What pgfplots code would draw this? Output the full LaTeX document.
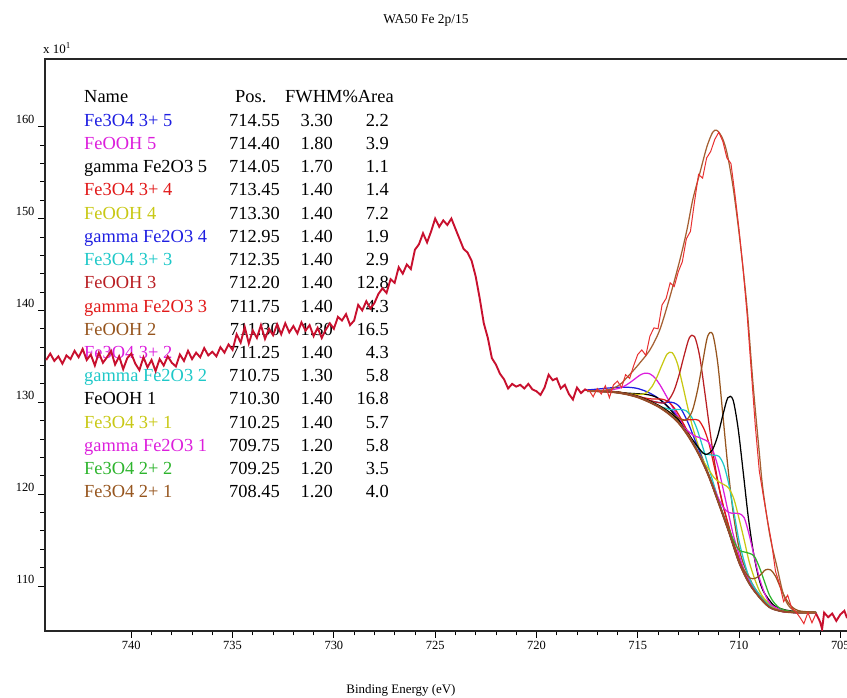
\documentclass[border=0pt]{standalone}
\usepackage{fontspec}
\setmainfont{Liberation Serif}
\usepackage{pgfplots}
\pgfplotsset{compat=1.18}
\definecolor{crim}{RGB}{200,16,46}
\definecolor{rreg}{RGB}{232,48,48}
\definecolor{cblue}{RGB}{30,30,225}
\definecolor{cmag}{RGB}{220,30,220}
\definecolor{cyel}{RGB}{200,200,20}
\definecolor{ccyan}{RGB}{30,200,200}
\definecolor{cred}{RGB}{225,25,25}
\definecolor{cdred}{RGB}{185,30,35}
\definecolor{cbrown}{RGB}{150,85,30}
\definecolor{cgreen}{RGB}{45,180,45}
\definecolor{env}{RGB}{165,95,50}
\definecolor{bgc}{RGB}{150,75,40}
\begin{document}
\begin{tikzpicture}
% ---- table of components (drawn first, data line passes over it)
\begin{scope}[every node/.style={font=\fontsize{18.5}{22}\selectfont, inner sep=0pt}]
\node[anchor=base west] at (39bp,528bp) {Name};
\node[anchor=base west] at (190bp,528bp) {Pos.};
\node[anchor=base west] at (240bp,528bp) {FWHM\%Area};
\foreach \i/\nm/\c/\p/\f/\a in {
 1/Fe3O4 3+ 5/cblue/714.55/3.30/2.2,
 2/FeOOH 5/cmag/714.40/1.80/3.9,
 3/gamma Fe2O3 5/black/714.05/1.70/1.1,
 4/Fe3O4 3+ 4/cred/713.45/1.40/1.4,
 5/FeOOH 4/cyel/713.30/1.40/7.2,
 6/gamma Fe2O3 4/cblue/712.95/1.40/1.9,
 7/Fe3O4 3+ 3/ccyan/712.35/1.40/2.9,
 8/FeOOH 3/cdred/712.20/1.40/12.8,
 9/gamma Fe2O3 3/cred/711.75/1.40/4.3,
 10/FeOOH 2/cbrown/711.30/1.30/16.5,
 11/Fe3O4 3+ 2/cmag/711.25/1.40/4.3,
 12/gamma Fe2O3 2/ccyan/710.75/1.30/5.8,
 13/FeOOH 1/black/710.30/1.40/16.8,
 14/Fe3O4 3+ 1/cyel/710.25/1.40/5.7,
 15/gamma Fe2O3 1/cmag/709.75/1.20/5.8,
 16/Fe3O4 2+ 2/cgreen/709.25/1.20/3.5,
 17/Fe3O4 2+ 1/cbrown/708.45/1.20/4.0}{
 \node[anchor=base west,text=\c] at (39bp,528bp-\i*23.23bp) {\nm};
 \node[anchor=base east] at (235bp,528bp-\i*23.23bp) {\p};
 \node[anchor=base east] at (288bp,528bp-\i*23.23bp) {\f};
 \node[anchor=base east] at (344bp,528bp-\i*23.23bp) {\a};
}
\end{scope}
\node[font=\fontsize{13.5}{15}\selectfont] at (381bp,611bp) {WA50 Fe 2p/15};
\node[font=\fontsize{13}{14}\selectfont, anchor=west, inner sep=0pt] at (-2bp,583bp) {x 10$^{\mathrm{1}}$};
\node[font=\fontsize{13}{15}\selectfont] at (356bp,-59bp) {Binding Energy (eV)};
\begin{axis}[
 at={(0,0)}, anchor=south west,
 scale only axis, width=815.6bp, height=572bp,
 xmin=704.0, xmax=744.26, ymin=105.1, ymax=167.37,
 x dir=reverse,
 xtick={705,710,...,740}, ytick={110,120,...,160},
 minor x tick num=4, minor y tick num=4,
 tick align=outside, tick pos=left,
 major tick length=7bp, minor tick length=4.5bp,
 axis line style={line width=1.3bp, black!85},
 every tick/.style={line width=0.8bp, black},
 ticklabel style={font=\fontsize{12.5}{14}\selectfont},
 /pgf/number format/assume math mode=true,
 yticklabel style={yshift=7bp},
 clip=true,
]
% ---- components (background + peak)
\pgfplotsset{comp/.style={line width=1.25bp, smooth, tension=0.5, no marks}}
\addplot[comp, cblue] coordinates {(717.5,131.34) (717.05,131.42) (716.55,131.53) (716.05,131.62) (715.55,131.64) (715.05,131.52) (714.55,131.15) (714.05,130.54) (713.55,129.64) (713.05,128.46) (712.55,126.82) (712.05,124.72) (711.55,122.31) (711.05,119.34) (710.55,116.23) (710.05,112.96) (709.55,110.55) (709.0,108.8) (708.5,107.7) (708.0,107.3) (707.5,107.15) (707.0,107.1) (706.2,107.1)};
\addplot[comp, cmag] coordinates {(717.5,131.21) (716.9,131.27) (716.4,131.32) (715.9,131.54) (715.65,131.77) (715.4,132.12) (715.15,132.53) (714.9,132.94) (714.65,133.17) (714.4,133.09) (714.15,132.65) (713.9,131.88) (713.65,130.92) (713.4,129.93) (713.15,128.96) (712.9,128.03) (712.4,126.11) (711.9,124.0) (711.5,122.03) (711.0,119.0) (710.5,115.9) (710.0,112.6) (709.5,110.3) (709.0,108.8) (708.5,107.7) (708.0,107.3) (707.5,107.15) (707.0,107.1) (706.2,107.1)};
\addplot[comp, black] coordinates {(717.5,131.2) (717.0,131.21) (716.55,131.18) (716.05,131.1) (715.55,131.0) (715.05,130.93) (714.55,130.85) (714.05,130.51) (713.55,129.58) (713.05,128.25) (712.55,126.58) (712.05,124.63) (711.55,122.26) (711.0,119.01) (710.5,115.9) (710.0,112.6) (709.5,110.3) (709.0,108.8) (708.5,107.7) (708.0,107.3) (707.5,107.15) (707.0,107.1) (706.2,107.1)};
\addplot[comp, cred] coordinates {(717.5,131.2) (717.0,131.2) (716.5,131.15) (716.0,131.05) (715.45,130.85) (714.95,130.6) (714.45,130.39) (714.2,130.36) (713.95,130.37) (713.7,130.28) (713.45,130.0) (713.2,129.38) (712.95,128.55) (712.7,127.49) (712.45,126.45) (711.95,124.25) (711.45,121.73) (711.0,119.0) (710.5,115.9) (710.0,112.6) (709.5,110.3) (709.0,108.8) (708.5,107.7) (708.0,107.3) (707.5,107.15) (707.0,107.1) (706.2,107.1)};
\addplot[comp, cyel] coordinates {(717.5,131.2) (717.0,131.22) (716.5,131.18) (716.0,131.12) (715.3,130.9) (714.8,130.85) (714.55,131.09) (714.3,131.7) (714.05,132.76) (713.8,134.08) (713.55,135.25) (713.3,135.4) (713.05,134.27) (712.8,132.03) (712.55,129.6) (712.3,127.36) (712.05,125.54) (711.8,123.92) (711.3,120.98) (710.8,117.82) (710.3,114.63) (709.8,111.7) (709.0,108.8) (708.5,107.7) (708.0,107.3) (707.5,107.15) (707.0,107.1) (706.2,107.1)};
\addplot[comp, cblue] coordinates {(717.5,131.2) (717.0,131.2) (716.5,131.16) (716.0,131.07) (715.5,130.89) (714.95,130.55) (714.45,130.18) (713.95,129.97) (713.7,129.96) (713.45,130.01) (713.2,129.93) (712.95,129.55) (712.7,128.63) (712.45,127.42) (712.2,126.02) (711.95,124.65) (711.45,121.83) (710.95,118.74) (710.5,115.92) (710.0,112.6) (709.5,110.3) (709.0,108.8) (708.5,107.7) (708.0,107.3) (707.5,107.15) (707.0,107.1) (706.2,107.1)};
\addplot[comp, ccyan] coordinates {(717.5,131.2) (717.0,131.2) (716.5,131.15) (716.0,131.06) (715.5,130.87) (714.85,130.45) (714.35,130.0) (713.85,129.51) (713.35,129.2) (713.1,129.22) (712.85,129.21) (712.6,129.06) (712.35,128.43) (712.1,127.24) (711.85,125.54) (711.6,123.7) (711.35,121.8) (710.85,118.25) (710.35,114.98) (709.85,111.93) (709.5,110.3) (709.0,108.8) (708.5,107.7) (708.0,107.3) (707.5,107.15) (707.0,107.1) (706.2,107.1)};
\addplot[comp, cdred] coordinates {(717.5,131.24) (717.0,131.25) (716.5,131.21) (716.0,131.13) (715.5,130.95) (715.0,130.69) (714.7,130.46) (714.2,130.07) (713.7,129.92) (713.45,130.32) (713.2,131.32) (712.95,133.05) (712.7,135.18) (712.45,137.03) (712.2,137.16) (711.95,135.08) (711.7,131.24) (711.45,127.1) (711.2,123.32) (710.95,120.31) (710.7,117.96) (710.2,114.22) (709.7,111.4) (709.2,109.53) (708.7,108.24) (708.0,107.33) (707.5,107.17) (707.0,107.12) (706.2,107.1)};
\addplot[comp, cred] coordinates {(717.5,131.2) (717.0,131.2) (716.5,131.16) (716.0,131.07) (715.5,130.89) (715.0,130.6) (714.5,130.16) (714.0,129.62) (713.75,129.28) (713.25,128.57) (712.75,128.09) (712.5,128.1) (712.25,128.11) (712.0,128.04) (711.75,127.2) (711.5,125.64) (711.25,123.26) (711.0,120.8) (710.75,118.49) (710.25,114.52) (709.75,111.55) (709.25,109.6) (708.75,108.28) (708.0,107.3) (707.5,107.15) (707.0,107.1) (706.2,107.1)};
\addplot[comp, cbrown] coordinates {(717.5,131.22) (717.0,131.23) (716.5,131.19) (716.0,131.1) (715.5,130.91) (715.0,130.62) (714.5,130.2) (714.0,129.68) (713.8,129.45) (713.3,128.75) (712.8,128.06) (712.55,128.19) (712.3,129.11) (712.05,131.31) (711.8,134.31) (711.55,137.18) (711.3,137.4) (711.05,134.24) (710.8,128.63) (710.55,122.93) (710.3,118.15) (710.05,114.67) (709.8,112.54) (709.3,110.05) (708.8,108.56) (708.3,107.65) (707.8,107.3) (707.3,107.15) (706.8,107.12) (706.2,107.1)};
\addplot[comp, cmag] coordinates {(717.5,131.2) (717.0,131.2) (716.5,131.15) (716.0,131.06) (715.5,130.88) (715.0,130.58) (714.5,130.13) (714.0,129.59) (713.75,129.23) (713.25,128.4) (712.75,127.32) (712.25,126.39) (712.0,126.2) (711.75,125.96) (711.5,125.64) (711.25,124.5) (711.0,122.64) (710.75,120.21) (710.5,117.7) (710.25,115.29) (709.75,111.72) (709.25,109.65) (708.75,108.3) (708.0,107.32) (707.5,107.15) (707.0,107.1) (706.2,107.1)};
\addplot[comp, ccyan] coordinates {(717.5,131.2) (717.0,131.2) (716.5,131.15) (716.0,131.06) (715.5,130.87) (715.0,130.57) (714.5,130.12) (714.0,129.58) (713.5,128.85) (713.0,127.87) (712.75,127.17) (712.25,125.65) (712.0,125.0) (711.75,124.43) (711.5,124.31) (711.25,124.23) (711.0,124.13) (710.75,123.15) (710.5,121.03) (710.25,117.98) (710.0,114.91) (709.75,112.68) (709.5,110.9) (709.25,109.85) (708.75,108.37) (708.25,107.55) (707.75,107.24) (707.0,107.1) (706.2,107.1)};
\addplot[comp, black] coordinates {(717.5,131.2) (717.0,131.21) (716.5,131.18) (716.0,131.1) (715.5,130.93) (715.0,130.64) (714.5,130.22) (714.0,129.7) (713.5,129.0) (713.0,128.1) (712.8,127.4) (712.3,125.93) (711.8,124.51) (711.55,124.36) (711.3,124.88) (711.05,126.37) (710.8,128.59) (710.55,130.5) (710.3,130.28) (710.05,127.22) (709.8,122.51) (709.55,117.6) (709.3,113.78) (709.05,111.07) (708.8,109.43) (708.3,107.93) (707.8,107.44) (707.3,107.25) (706.8,107.17) (706.2,107.13)};
\addplot[comp, cyel] coordinates {(717.5,131.2) (717.0,131.2) (716.5,131.15) (716.0,131.06) (715.5,130.87) (715.0,130.58) (714.5,130.14) (714.0,129.6) (713.5,128.87) (713.0,127.89) (712.5,126.44) (712.25,125.48) (711.75,123.55) (711.5,122.7) (711.25,121.85) (711.0,121.34) (710.75,121.04) (710.5,120.63) (710.25,119.45) (710.0,117.33) (709.75,115.04) (709.5,112.64) (709.25,110.9) (709.0,109.5) (708.75,108.6) (708.25,107.63) (707.75,107.27) (707.0,107.11) (706.2,107.1)};
\addplot[comp, cmag] coordinates {(717.5,131.2) (717.0,131.2) (716.5,131.15) (716.0,131.06) (715.5,130.86) (715.0,130.57) (714.5,130.12) (714.0,129.58) (713.5,128.84) (713.0,127.85) (712.5,126.37) (712.0,124.5) (711.75,123.3) (711.25,120.73) (711.0,119.47) (710.75,118.47) (710.5,118.0) (710.25,117.91) (710.0,117.88) (709.75,117.45) (709.5,115.58) (709.25,113.21) (709.0,110.9) (708.75,109.27) (708.5,108.17) (708.25,107.73) (707.75,107.32) (707.0,107.12) (706.2,107.1)};
\addplot[comp, cgreen] coordinates {(717.5,131.2) (717.0,131.2) (716.5,131.15) (716.0,131.05) (715.5,130.86) (715.0,130.56) (714.5,130.11) (714.0,129.57) (713.5,128.83) (713.0,127.83) (712.5,126.33) (712.0,124.44) (711.5,122.05) (711.25,120.56) (710.75,117.59) (710.5,116.19) (710.25,114.88) (710.0,113.9) (709.75,113.71) (709.5,113.56) (709.25,113.25) (709.0,112.06) (708.75,110.51) (708.5,109.0) (708.25,108.13) (708.0,107.59) (707.75,107.36) (707.25,107.18) (706.75,107.12) (706.2,107.1)};
\addplot[comp, cbrown] coordinates {(717.5,131.2) (717.0,131.2) (716.5,131.15) (716.0,131.05) (715.5,130.85) (715.0,130.55) (714.5,130.1) (714.0,129.55) (713.5,128.8) (713.0,127.8) (712.5,126.3) (712.0,124.41) (711.5,122.02) (711.0,119.02) (710.45,115.64) (709.95,112.53) (709.7,111.54) (709.45,110.85) (709.2,110.84) (708.95,111.19) (708.7,111.75) (708.45,111.76) (708.2,111.07) (707.95,109.79) (707.7,108.65) (707.45,107.85) (707.2,107.44) (706.95,107.26) (706.45,107.17) (706.2,107.15)};
% ---- background
\addplot[line width=2bp, bgc, smooth, tension=0.5, no marks] coordinates {(717.5,131.2) (717.0,131.2) (716.5,131.15) (716.0,131.05) (715.5,130.85) (715.0,130.55) (714.5,130.1) (714.0,129.55) (713.5,128.8) (713.0,127.8) (712.5,126.3) (712.0,124.4) (711.5,122.0) (711.0,119.0) (710.5,115.9) (710.0,112.6) (709.5,110.3) (709.0,108.8) (708.5,107.7) (708.0,107.3) (707.5,107.15) (707.0,107.1) (706.2,107.1)};
% ---- envelope
\addplot[line width=1.25bp, env, smooth, tension=0.5, no marks] coordinates {(717.5,131.2) (717.0,131.25) (716.37,131.4) (715.9,131.9) (715.53,132.7) (715.2,133.5) (714.89,134.3) (714.4,135.7) (713.91,137.9) (713.41,141.5) (712.92,145.5) (712.57,148.8) (712.28,152.1) (711.93,155.0) (711.59,157.8) (711.3,159.4) (711.1,159.6) (710.85,158.9) (710.6,157.2) (710.3,153.5) (709.96,147.7) (709.61,140.4) (709.31,132.0) (709.0,124.5) (708.82,120.5) (708.47,115.4) (708.13,112.1) (707.84,109.3) (707.6,108.0) (707.34,107.4) (707.0,107.15) (706.2,107.1)};
% ---- measured data, fitting region
\addplot[line width=1bp, rreg, no marks] coordinates {(717.5,131.3) (717.4,131.3) (717.2,130.6) (717.0,131.5) (716.8,130.9) (716.6,131.8) (716.4,130.5) (716.2,131.9) (716.0,132.3) (715.8,131.6) (715.6,133.0) (715.4,132.6) (715.2,134.0) (715.0,135.2) (714.8,135.7) (714.6,135.1) (714.4,137.2) (714.2,138.1) (714.0,138.0) (713.8,140.6) (713.6,141.3) (713.4,143.0) (713.2,142.6) (713.0,144.2) (712.8,145.3) (712.6,147.8) (712.4,148.6) (712.2,151.8) (712.0,154.8) (711.8,154.4) (711.6,156.6) (711.4,157.3) (711.2,158.6) (711.0,159.4) (710.8,158.4) (710.6,156.6) (710.4,156.0) (710.2,152.6) (710.0,148.8) (709.8,144.5) (709.6,139.5) (709.4,133.5) (709.2,127.5) (709.0,122.5) (708.8,119.8) (708.6,117.2) (708.4,114.8) (708.2,111.6) (708.0,110.2) (707.8,108.3) (707.6,109.0) (707.4,107.6) (707.2,107.2) (707.0,106.6) (706.8,105.9) (706.6,107.1) (706.4,106.0) (706.2,107.0)};
% ---- measured data, outside the region
\addplot[line width=1.9bp, crim, no marks] coordinates {(744.2,134.6) (744.0,135.3) (743.8,134.5) (743.6,135.0) (743.4,134.2) (743.2,135.1) (743.0,134.7) (742.8,135.6) (742.6,134.9) (742.4,135.8) (742.2,134.6) (742.0,135.2) (741.8,134.0) (741.6,135.4) (741.4,134.3) (741.2,134.9) (741.0,135.6) (740.8,134.1) (740.6,135.0) (740.4,133.6) (740.2,134.8) (740.0,135.3) (739.8,134.2) (739.6,133.5) (739.4,134.9) (739.2,133.8) (739.0,134.6) (738.8,133.4) (738.6,134.7) (738.4,134.0) (738.2,135.0) (738.0,134.3) (737.8,133.9) (737.6,135.2) (737.4,134.5) (737.2,135.6) (737.0,134.7) (736.8,135.4) (736.6,134.9) (736.4,135.9) (736.2,135.1) (736.0,135.5) (735.8,135.0) (735.6,136.0) (735.4,135.4) (735.2,136.3) (735.0,135.7) (734.8,137.4) (734.6,136.5) (734.4,138.2) (734.2,136.4) (734.0,137.8) (733.8,137.0) (733.6,138.4) (733.4,136.9) (733.2,138.0) (733.0,137.3) (732.8,138.5) (732.6,137.4) (732.4,138.6) (732.2,137.6) (732.0,138.3) (731.8,137.5) (731.6,138.7) (731.4,137.8) (731.2,138.4) (731.0,137.2) (730.8,138.1) (730.6,137.0) (730.4,137.9) (730.2,138.6) (730.0,138.0) (729.8,139.3) (729.6,138.9) (729.4,139.6) (729.2,138.4) (729.0,138.9) (728.8,140.6) (728.6,140.0) (728.4,141.0) (728.2,140.2) (728.0,140.8) (727.8,141.8) (727.6,142.4) (727.4,141.9) (727.2,143.4) (727.0,143.0) (726.8,144.7) (726.6,144.0) (726.4,145.0) (726.2,144.5) (726.0,146.6) (725.8,147.2) (725.6,148.4) (725.4,147.4) (725.2,148.6) (725.0,150.0) (724.8,149.1) (724.6,149.8) (724.4,149.3) (724.2,150.0) (724.0,148.9) (723.8,147.8) (723.6,146.7) (723.4,146.3) (723.2,145.4) (723.0,143.7) (722.8,141.3) (722.6,138.6) (722.4,137.0) (722.2,134.8) (722.0,134.1) (721.8,133.1) (721.6,132.5) (721.4,131.5) (721.2,132.0) (721.0,131.7) (720.8,131.9) (720.6,131.5) (720.4,132.0) (720.2,131.4) (720.0,131.2) (719.8,130.8) (719.6,131.6) (719.4,133.0) (719.2,132.4) (719.0,132.6) (718.8,131.5) (718.6,131.9) (718.4,130.9) (718.2,130.3) (718.0,131.6) (717.8,131.0) (717.6,131.4) (717.5,131.3)};
\addplot[line width=1.9bp, crim, no marks] coordinates {(706.2,107.0) (706.0,106.1) (705.9,105.3) (705.8,107.1) (705.6,106.6) (705.4,107.0) (705.2,106.2) (705.0,106.9) (704.8,107.3) (704.67,106.5)};
\end{axis}
\pgfresetboundingbox
\useasboundingbox (-45bp,-67bp) rectangle (802bp,631bp);
\end{tikzpicture}
\end{document}
